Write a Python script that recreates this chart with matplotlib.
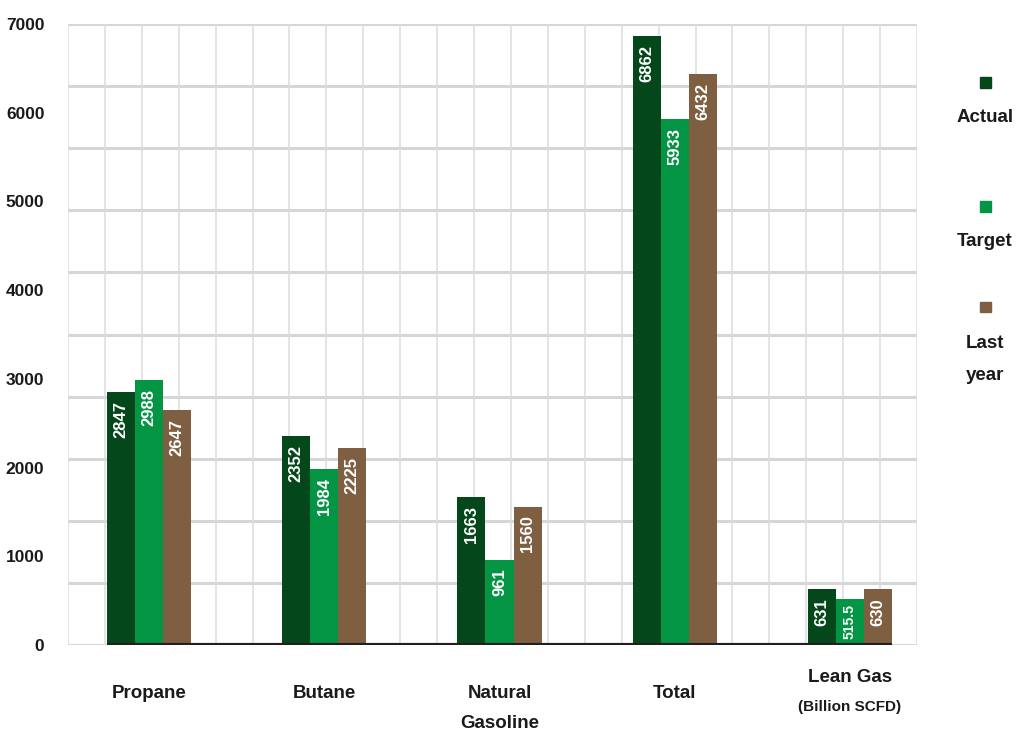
import numpy as np
import matplotlib.pyplot as plt
from matplotlib.patches import Rectangle

plt.rcParams['font.family'] = ['Liberation Sans', 'DejaVu Sans']

# production figures per product
categories = ["Propane", "Butane", "Natural\nGasoline", "Total", "Lean Gas"]
unit_note = "(Billion SCFD)"
series_names = ["Actual", "Target", "Last\nyear"]
actual = [2847, 2352, 1663, 6862, 631]
target = [2988, 1984, 961, 5933, 515.5]
last_year = [2647, 2225, 1560, 6432, 630]
value_labels = [
    ["2847", "2352", "1663", "6862", "631"],
    ["2988", "1984", "961", "5933", "515.5"],
    ["2647", "2225", "1560", "6432", "630"],
]
yticks = [0, 1000, 2000, 3000, 4000, 5000, 6000, 7000]

colors = ["#03471a", "#039444", "#7f5f42"]
text_col = "#1a1a1a"

fig = plt.figure(figsize=(10.16, 7.33), dpi=100)
ax = fig.add_axes([68 / 1016, 88 / 733, 849 / 1016, 621 / 733])

x = np.arange(len(categories))
w = 0.16
xmin, xmax = -0.462, 4.382
ax.set_xlim(xmin, xmax)
ax.set_ylim(0, 7000)

# light grid, drawn by hand so it does not follow the tick positions
for gy in np.linspace(0, 7000, 11):
    ax.axhline(gy, color="#d6d6d6", lw=2.2, zorder=0)
for gx in np.linspace(xmin, xmax, 24):
    ax.axvline(gx, color="#dcdcdc", lw=1.1, zorder=0)

px_per_unit = 621 / 7000
series = [actual, target, last_year]
for i, vals in enumerate(series):
    pos = x + (i - 1) * w
    bars = ax.bar(pos, vals, width=w, color=colors[i], zorder=2)
    for b, lab in zip(bars, value_labels[i]):
        h = b.get_height()
        cx = b.get_x() + b.get_width() / 2
        # short bars get a smaller, centred label so it stays inside
        if h * px_per_unit < 9 + 9 * len(lab):
            xy, off, va, fs = (cx, h / 2), (0, 1), "center", 10
        else:
            xy, off, va, fs = (cx, h), (0, -9), "top", 12
        ax.annotate(lab, xy, xytext=off, textcoords="offset pixels",
                    rotation=90, ha="center", va=va, color="white",
                    fontsize=fs, fontweight="bold", zorder=3)

# dark baseline under the bars
ax.hlines(0, x[0] - 1.5 * w, x[-1] + 1.5 * w, color="#231f20", lw=3, zorder=4)

for s in ax.spines.values():
    s.set_visible(False)
ax.set_xticks([])
ax.set_yticks(yticks)
ax.set_yticklabels([str(t) for t in yticks], fontsize=12.5,
                   fontweight="bold", color=text_col)
ax.tick_params(axis="y", length=0, pad=17)

# category names under the axis
for xi, name in zip(x, categories):
    lines = name.split("\n")
    first = -32 if name == "Lean Gas" else -49
    for k, line in enumerate(lines):
        ax.annotate(line, (xi, 0), xycoords=("data", "axes fraction"),
                    xytext=(0, first - 29 * k), textcoords="offset pixels",
                    ha="center", va="center", fontsize=13.5,
                    fontweight="bold", color=text_col, annotation_clip=False)
ax.annotate(unit_note, (x[-1], 0), xycoords=("data", "axes fraction"),
            xytext=(0, -62), textcoords="offset pixels", ha="center",
            va="center", fontsize=11, fontweight="bold", color=text_col,
            annotation_clip=False)

# legend down the right-hand side
sq_y = [82, 206, 307]
for name, col, sy in zip(series_names, colors, sq_y):
    fx = 985 / 1016
    fy = 1 - sy / 733
    fig.add_artist(Rectangle((fx - 5.5 / 1016, fy - 5.5 / 733), 11 / 1016,
                             11 / 733, transform=fig.transFigure,
                             color=col))
    for k, line in enumerate(name.split("\n")):
        fig.text(fx, 1 - (sy + 36 + 32 * k) / 733, line, ha="center",
                 va="center", fontsize=13.5, fontweight="bold",
                 color=text_col)

fig.savefig("out.png", dpi=100)
